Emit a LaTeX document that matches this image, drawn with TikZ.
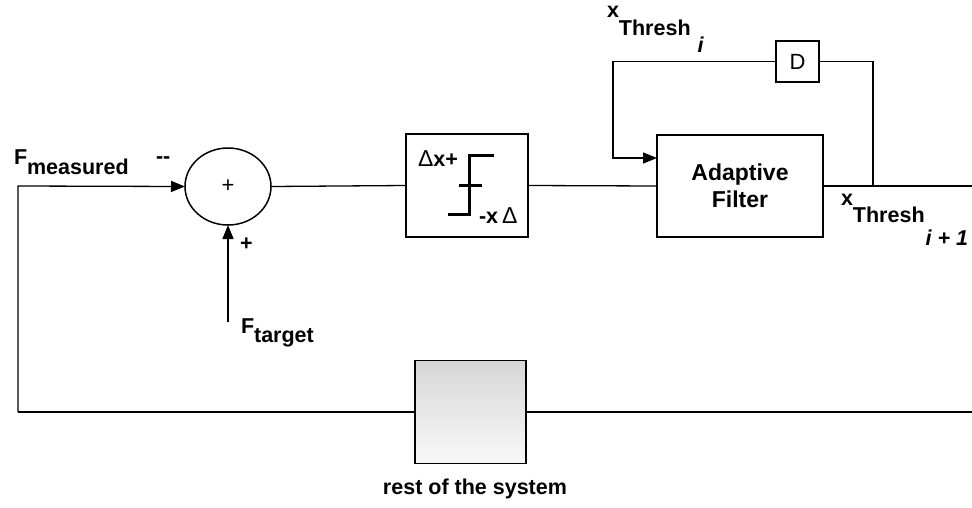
\documentclass[tikz,border=0pt]{standalone}
\usepackage{fontspec}
\setmainfont{Liberation Sans}
\usepackage{tikz}
\usetikzlibrary{
arrows.meta,
positioning,
calc,
shapes.geometric
}
\definecolor{boxtop}{HTML}{D6D6D6}
\definecolor{boxbot}{HTML}{F8F8F8}

\begin{document}
\begin{tikzpicture}[x=1pt, y=-1pt,
    every node/.style={font=\fontsize{21.5}{25}\selectfont\bfseries, inner sep=0pt, outer sep=0pt},
    wire/.style={line width=1.3pt},
    arr/.style={wire, -{Triangle[length=14pt, width=11pt]}},
    blockbox/.style={draw, line width=1.5pt, fill=white},
    stepline/.style={line width=3pt}
]
        \useasboundingbox (0,0) rectangle (972,507);

        % blocks
        \node[draw, ellipse, line width=1.5pt, minimum width=86pt, minimum height=77pt,
              font=\fontsize{22}{24}\selectfont] (sum) at (228,186.5) {+};
        \node[blockbox, minimum width=122pt, minimum height=103pt] (thr) at (467,185.5) {};
        \node[blockbox, minimum width=166pt, minimum height=102pt, align=center,
              font=\fontsize{23}{27}\selectfont\bfseries] (af) at (740,186) {Adaptive\\Filter};
        \node[blockbox, minimum width=43pt, minimum height=41pt,
              font=\fontsize{22}{24}\selectfont] (dly) at (797.5,61.5) {D};
        \node[draw, line width=1.5pt, top color=boxtop, bottom color=boxbot,
              minimum width=111pt, minimum height=103pt] (rest) at (470.5,412) {};

        % free ends
        \coordinate (fbl) at (18,412);
        \coordinate (fbt) at (18,186);
        \coordinate (tgt) at (228,322);
        \coordinate (outr) at (972,186);
        \coordinate (outb) at (972,412);
        \coordinate (tap) at (873,186);
        \coordinate (fbk) at (613,158);

        % connectors
        \draw[arr] (fbl) -- (fbt) -- (sum.west);
        \draw[arr] (tgt) -- (sum.south);
        \draw[wire] (sum.east) -- (thr.west);
        \draw[wire] (thr.east) -- (af.west);
        \draw[wire] (af.east) -- (outr);
        \draw[wire] (tap) |- (dly.east);
        \draw[arr] (dly.west) -| (fbk) -- (fbk -| af.west);
        \draw[wire] (outb) -- (rest.east);
        \draw[wire] (rest.west) -- (fbl);

        % threshold characteristic
        \draw[stepline] (448,214) -- (469,214) -- (469,155) -- (494,155);
        \draw[stepline] (459,185) -- (482,185);
        \node[anchor=base west] (dxp) at (418,166) {{\mdseries\fontsize{23}{26}\selectfont\symbol{"0394}}x+};
        \node[anchor=base west] (dxm) at (479,223) {-x\hspace{4pt}{\mdseries\fontsize{23}{26}\selectfont\symbol{"0394}}};

        % labels
        \node[anchor=base west] (fmeas) at (14,164) {F\raisebox{-10pt}{measured}};
        \node[anchor=base west] (minus) at (156,163) {-{}-};
        \node[anchor=base west] (plus) at (240,250) {+};
        \node[anchor=base west] (ftgt) at (241,333) {F\raisebox{-9pt}{target}};
        \node[anchor=base west] (xi) at (607,17) {x\raisebox{-18pt}{Thresh}\hspace{7pt}\raisebox{-35pt}{\itshape i}};
        \node[anchor=base west] (xip) at (841,205) {x\raisebox{-17pt}{Thresh}\hspace{1pt}\raisebox{-40pt}{\itshape i + 1}};
        \node[anchor=base] (restlbl) at (475,494) {rest of the system};
\end{tikzpicture}
\end{document}
